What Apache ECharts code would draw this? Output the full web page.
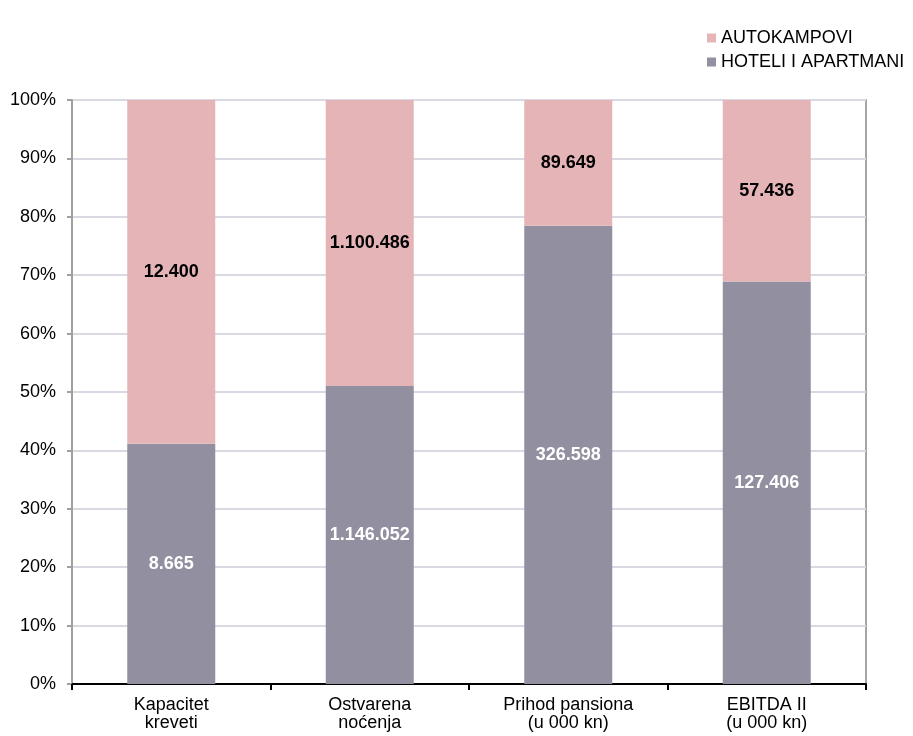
<!DOCTYPE html>
<html>
<head>
<meta charset="utf-8">
<script src="https://cdn.jsdelivr.net/npm/echarts@6/dist/echarts.min.js"></script>
<style>
  html, body { margin: 0; padding: 0; background: #fff; }
  #chart { width: 913px; height: 736px; }
</style>
</head>
<body>
<div id="chart"></div>
<script>
// kategorije i vrijednosti
const categories = ['Kapacitet\nkreveti', 'Ostvarena\nnoćenja', 'Prihod pansiona\n(u 000 kn)', 'EBITDA II\n(u 000 kn)']
const hoteli = [8665, 1146052, 326598, 127406]
const autokampovi = [12400, 1100486, 89649, 57436]
const yTicks = [0, 10, 20, 30, 40, 50, 60, 70, 80, 90, 100]

// udio u postocima
const hoteliPct = hoteli.map((v, i) => v / (v + autokampovi[i]) * 100)
const kampPct = autokampovi.map((v, i) => v / (v + hoteli[i]) * 100)

// 1146052 -> 1.146.052
function fmt (n) {
  return String(n).replace(/\B(?=(\d{3})+(?!\d))/g, '.')
}

const font = 'Liberation Sans, Arial, sans-serif'
const myChart = echarts.init(document.getElementById('chart'))
myChart.setOption({
  animation: false,
  textStyle: { fontFamily: font },
  legend: {
    orient: 'vertical',
    left: 702,
    top: 24,
    itemWidth: 9,
    itemHeight: 9,
    itemGap: 6,
    icon: 'rect',
    data: ['AUTOKAMPOVI', 'HOTELI I APARTMANI'],
    textStyle: { fontSize: 18, color: '#000', fontFamily: font }
  },
  grid: {
    left: 72,
    right: 47,
    top: 100,
    bottom: 52,
    show: true,
    borderColor: '#a6a6a6',
    borderWidth: 2
  },
  xAxis: {
    type: 'category',
    data: categories,
    axisLine: { lineStyle: { color: '#000', width: 2 } },
    axisTick: { show: true, length: 6, lineStyle: { color: '#000', width: 2 } },
    axisLabel: { interval: 0, fontSize: 18, color: '#000', lineHeight: 18, margin: 12, fontFamily: font }
  },
  yAxis: {
    type: 'value',
    min: yTicks[0],
    max: yTicks[yTicks.length - 1],
    interval: 10,
    axisLine: { show: true, lineStyle: { color: '#a0a0a0', width: 2 } },
    axisTick: { show: true, length: 5, lineStyle: { color: '#a0a0a0', width: 2 } },
    axisLabel: { formatter: '{value}%', fontSize: 18, color: '#000', margin: 16, fontFamily: font },
    splitLine: { lineStyle: { color: '#d9d9e3', width: 2 } }
  },
  series: [
    {
      name: 'HOTELI I APARTMANI',
      type: 'bar',
      stack: 'ukupno',
      barWidth: 88,
      data: hoteliPct,
      itemStyle: { color: '#928fa0' },
      label: {
        show: true,
        position: 'inside',
        color: '#fff',
        fontWeight: 'bold',
        fontSize: 18,
        fontFamily: font,
        formatter: p => fmt(hoteli[p.dataIndex])
      }
    },
    {
      name: 'AUTOKAMPOVI',
      type: 'bar',
      stack: 'ukupno',
      barWidth: 88,
      data: kampPct,
      itemStyle: { color: '#e4b4b6' },
      label: {
        show: true,
        position: 'inside',
        color: '#000',
        fontWeight: 'bold',
        fontSize: 18,
        fontFamily: font,
        formatter: p => fmt(autokampovi[p.dataIndex])
      }
    }
  ]
})
</script>
</body>
</html>
